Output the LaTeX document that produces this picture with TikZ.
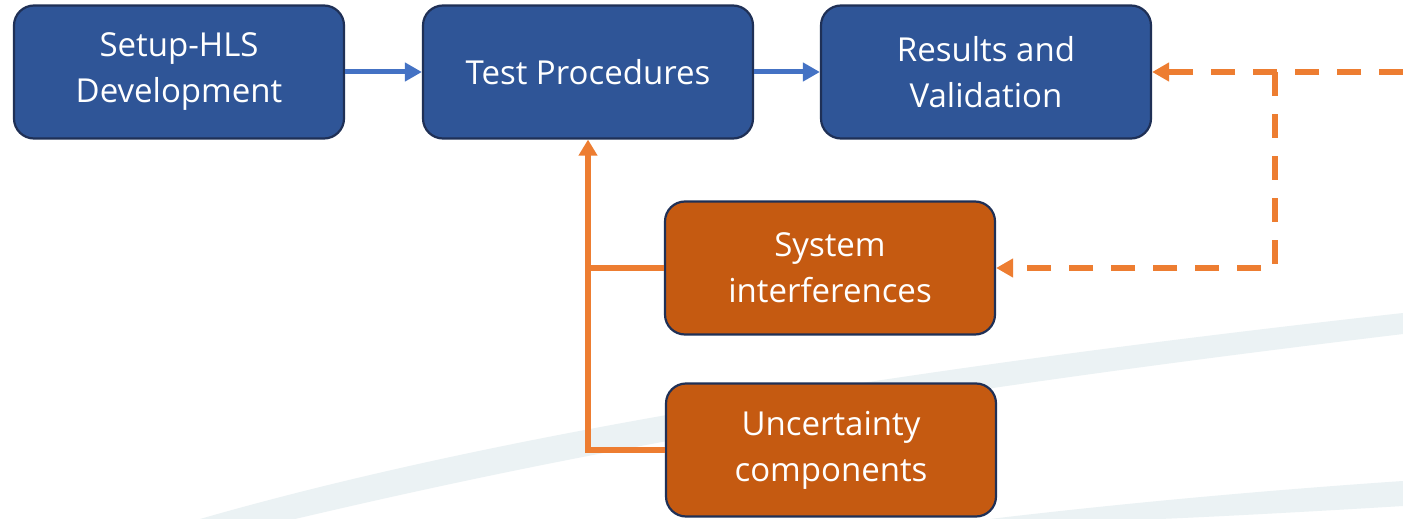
\documentclass[tikz,border=0pt]{standalone}
\usepackage{fontspec}
\setmainfont{Open Sans}
\usetikzlibrary{arrows.meta}
\definecolor{boxblue}{HTML}{2F5597}
\definecolor{boxorange}{HTML}{C55A11}
\definecolor{boxedge}{HTML}{1F3056}
\definecolor{linkblue}{HTML}{4472C4}
\definecolor{linkorange}{HTML}{ED7D31}
\definecolor{swoosh}{HTML}{EBF2F4}
\tikzset{
  stage/.style={draw=boxedge, line width=2.2pt, rounded corners=20pt,
    minimum width=330pt, minimum height=133pt, text=white, align=center,
    font=\fontsize{33}{46}\selectfont, inner sep=0pt},
  mainstage/.style={stage, fill=boxblue},
  factor/.style={stage, fill=boxorange},
  flow/.style={draw=linkblue, line width=5pt,
    -{Triangle[length=17pt, width=18pt]}},
  feed/.style={draw=linkorange, line width=5.5pt},
  feedtip/.style={feed, -{Triangle[length=16pt, width=18pt]}},
  loop/.style={draw=linkorange, line width=5.5pt, dash pattern=on 24pt off 18pt},
  looptip/.style={loop, -{Triangle[length=17pt, width=18pt]}}
}
\begin{document}
\begin{tikzpicture}[x=1pt, y=-1pt]
  \useasboundingbox (0,0) rectangle (1403,519);
  \fill[white] (0,0) rectangle (1403,519);

  % faint background swooshes
  \fill[swoosh] (200,519) .. controls (440,450) and (800,380) .. (1403,313)
    -- (1403,334) .. controls (870,398) and (580,452) .. (295,519) -- cycle;
  \fill[swoosh] (990,519) .. controls (1150,500) and (1300,488) .. (1403,481)
    -- (1403,506) .. controls (1320,511) and (1230,516) .. (1160,519) -- cycle;

  % stages
  \node[mainstage] (setup) at (179,72) {Setup-HLS\\Development};
  \node[mainstage] (tests) at (588,72) {Test Procedures};
  \node[mainstage] (results) at (986,72) {Results and\\Validation};
  \node[factor] (interf) at (830,268) {System\\interferences};
  \node[factor] (uncert) at (831,450) {Uncertainty\\components};

  % main flow
  \draw[flow] (setup.east) -- (tests.west);
  \draw[flow] (tests.east) -- (results.west);

  % influencing factors
  \draw[feedtip] (uncert.west) -| (tests.south);
  \draw[feed] (interf.west) -- (interf.west -| tests.south);

  % feedback loop
  \coordinate (edge) at (1403,72);
  \coordinate (split) at (1275,72);
  \draw[looptip] (edge) -- (results.east);
  \draw[looptip] (split) |- (interf.east);
\end{tikzpicture}
\end{document}
